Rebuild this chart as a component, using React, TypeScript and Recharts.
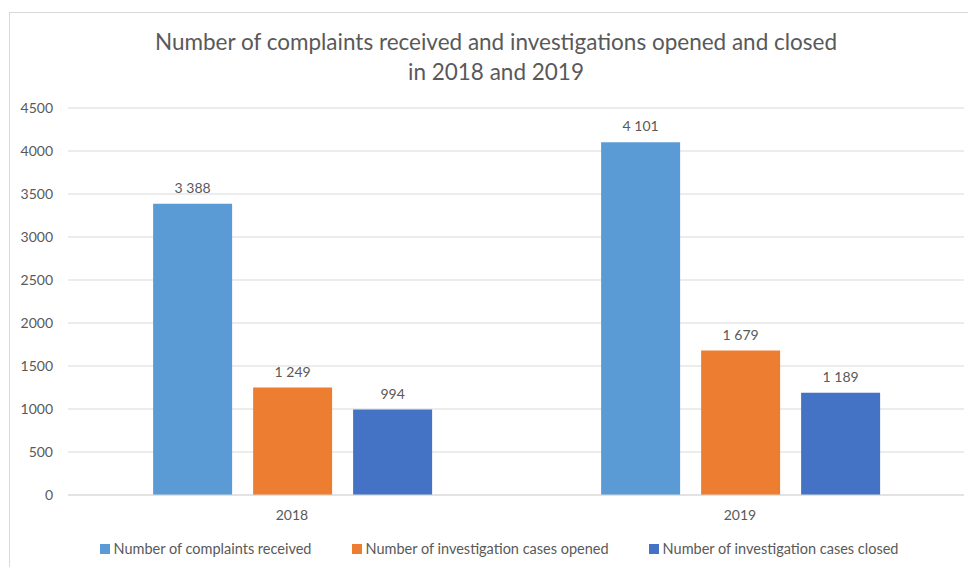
import { BarChart, Bar, XAxis, YAxis, CartesianGrid, LabelList } from 'recharts'

const years = ['2018', '2019']
const complaintsReceived = [3388, 4101]
const casesOpened = [1249, 1679]
const casesClosed = [994, 1189]
const yTicks = [0, 500, 1000, 1500, 2000, 2500, 3000, 3500, 4000, 4500]

const series = [
  { key: 'received', name: 'Number of complaints received', color: '#5B9BD5' },
  { key: 'opened', name: 'Number of investigation cases opened', color: '#ED7D31' },
  { key: 'closed', name: 'Number of investigation cases closed', color: '#4472C4' },
]

const data = years.map((year, i) => ({
  year,
  received: complaintsReceived[i],
  opened: casesOpened[i],
  closed: casesClosed[i],
}))

const FONT = 'Lato, "Open Sans", sans-serif'
const TEXT = '#595959'

// 3388 -> "3 388"
const fmt = (v: any) => String(v).replace(/\B(?=(\d{3})+(?!\d))/g, ' ')

export default function App() {
  return (
    <div style={{ position: 'absolute', left: 0, top: 0, width: 968, height: 567, background: '#fff', overflow: 'hidden' }}>
      <div style={{ position: 'absolute', left: 9, top: 12, width: 980, height: 600, border: '1px solid #d9d9d9' }} />
      <div
        style={{
          position: 'absolute', left: 0, top: 27, width: 992, textAlign: 'center',
          fontFamily: FONT, fontSize: 22.5, lineHeight: '30px', color: TEXT,
        }}
      >
        Number of complaints received and investigations opened and closed
        <br />
        in 2018 and 2019
      </div>
      <div style={{ position: 'absolute', left: 0, top: 0 }}>
        <BarChart
          width={968}
          height={567}
          data={data}
          margin={{ top: 108, right: 4, left: 18, bottom: 42 }}
          barCategoryGap="19%"
          barGap={21}
        >
          <CartesianGrid vertical={false} stroke="#d9d9d9" strokeWidth={1} />
          <XAxis
            dataKey="year"
            height={30}
            axisLine={{ stroke: '#d9d9d9' }}
            tickLine={false}
            tickSize={0}
            tickMargin={15}
            tick={{ fontSize: 14, fill: TEXT, fontFamily: FONT }}
          />
          <YAxis
            domain={[0, 4500]}
            ticks={yTicks}
            width={50}
            axisLine={false}
            tickLine={false}
            tickSize={0}
            tickMargin={15}
            tick={{ fontSize: 14, fill: TEXT, fontFamily: FONT }}
          />
          {series.map(s => (
            <Bar key={s.key} dataKey={s.key} name={s.name} fill={s.color} isAnimationActive={false}>
              <LabelList
                dataKey={s.key}
                position="top"
                offset={11}
                formatter={fmt}
                style={{ fontSize: 14, fill: TEXT, fontFamily: FONT }}
              />
            </Bar>
          ))}
        </BarChart>
      </div>
      <div
        style={{
          position: 'absolute', left: 0, top: 540, width: 998, display: 'flex', justifyContent: 'center',
          gap: 40, fontFamily: FONT, fontSize: 14.5, lineHeight: '18px', color: TEXT,
        }}
      >
        {series.map(s => (
          <div key={s.key} style={{ display: 'flex', alignItems: 'center' }}>
            <span style={{ width: 10, height: 10, background: s.color, marginRight: 4, display: 'inline-block' }} />
            {s.name}
          </div>
        ))}
      </div>
    </div>
  )
}
